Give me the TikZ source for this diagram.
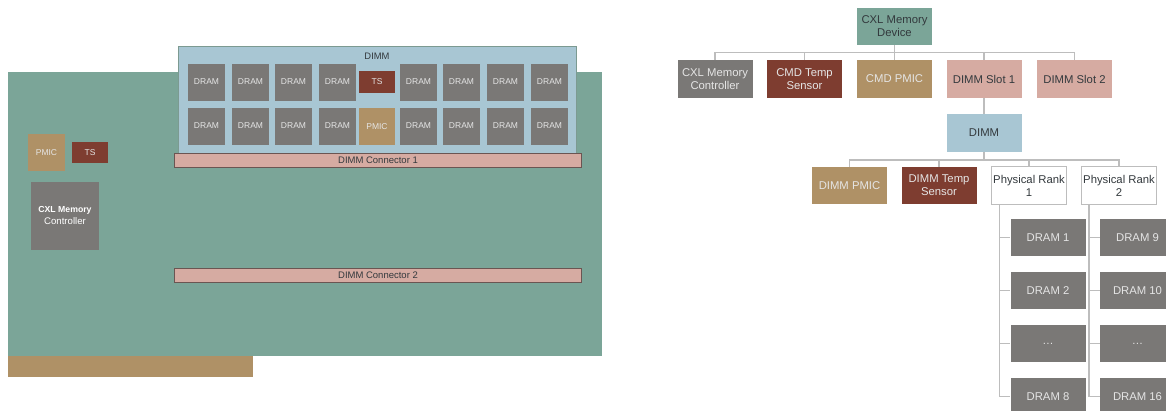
\documentclass[tikz,border=0pt]{standalone}
\usepackage{fontspec}
\setmainfont{Liberation Sans}
\definecolor{boardteal}{HTML}{7BA598}
\definecolor{dimmblue}{HTML}{A8C6D3}
\definecolor{dramgray}{HTML}{7A7876}
\definecolor{tsbrown}{HTML}{7E3D30}
\definecolor{pmictan}{HTML}{AF9166}
\definecolor{slotpink}{HTML}{D6ABA2}
\definecolor{linegray}{HTML}{BDBDBD}
\definecolor{darkedge}{HTML}{6B5552}
\definecolor{inkdark}{HTML}{33393D}
\begin{document}
\begin{tikzpicture}[x=1pt,y=-1pt,
  part/.style={inner sep=0pt,align=center,text=white!80!gray},
  small/.style={part,font=\fontsize{8.5}{10}\selectfont},
  dramchip/.style={small,fill=dramgray,minimum width=37pt,minimum height=37pt},
  slotbar/.style={part,text=inkdark,fill=slotpink,draw=darkedge,line width=1pt,minimum width=407pt,minimum height=14pt,font=\fontsize{9.5}{11}\selectfont},
  treebox/.style={part,minimum width=75pt,minimum height=37.5pt,font=\fontsize{11.3}{13}\selectfont},
  conn/.style={draw=linegray,line width=1.5pt}]
  \useasboundingbox (0,0) rectangle (1166,410);
  \clip (0,0) rectangle (1166,410);
  % board
  \node[part,fill=boardteal,minimum width=594pt,minimum height=284pt] (board) at (305,214) {};
  \node[part,fill=pmictan,minimum width=245pt,minimum height=21pt] (edge) at (130.5,366.5) {};
  \node[part,text=inkdark,fill=dimmblue,draw=boardteal!70!gray,line width=.5pt,minimum width=398pt,minimum height=107pt] (dimm) at (377,99.5) {};
  \node[small,text=inkdark,font=\fontsize{9.4}{11}\selectfont] (dimmname) at (377,56.5) {DIMM};
  \foreach \x [count=\i] in {206.5,250.5,293.5,337.5,418.5,461.5,505.5,549.5} {
    \node[dramchip] (chipa\i) at (\x,82) {DRAM};
    \node[dramchip] (chipb\i) at (\x,126) {DRAM};
  }
  \node[small,fill=tsbrown,minimum width=36pt,minimum height=22pt] (dimmts) at (377,82) {TS};
  \node[small,fill=pmictan,minimum width=36pt,minimum height=37pt] (dimmpmic) at (377,126.5) {PMIC};
  \node[slotbar] (conna) at (378,160) {DIMM Connector 1};
  \node[slotbar] (connb) at (378,275.5) {DIMM Connector 2};
  \node[small,fill=pmictan,minimum width=37pt,minimum height=37pt] (boardpmic) at (46.5,152.5) {PMIC};
  \node[small,fill=tsbrown,minimum width=36pt,minimum height=21pt] (boardts) at (90,152.5) {TS};
  \node[small,fill=dramgray,text=white,minimum width=68pt,minimum height=68pt,font=\fontsize{8.7}{12}\selectfont] (boardctrl) at (65,216) {\textbf{CXL Memory}\\{\fontsize{9.6}{12}\selectfont Controller}};
  % tree
  \node[treebox,text=inkdark,fill=boardteal] (device) at (894.5,26.5) {CXL Memory\\Device};
  \node[treebox,fill=dramgray] (ctrl) at (715,79) {CXL Memory\\Controller};
  \node[treebox,fill=tsbrown] (cmdtemp) at (804.5,79) {CMD Temp\\Sensor};
  \node[treebox,fill=pmictan] (cmdpmic) at (894.5,79) {CMD PMIC};
  \node[treebox,text=inkdark,fill=slotpink] (slota) at (984,79) {DIMM Slot 1};
  \node[treebox,text=inkdark,fill=slotpink] (slotb) at (1074.5,79) {DIMM Slot 2};
  \node[treebox,text=inkdark,fill=dimmblue] (dimmtree) at (984,133) {DIMM};
  \node[treebox,fill=pmictan] (treepmic) at (849.5,185.5) {DIMM PMIC};
  \node[treebox,fill=tsbrown] (treetemp) at (939,185.5) {DIMM Temp\\Sensor};
  \node[treebox,text=inkdark,fill=white,draw=linegray,line width=.8pt] (ranka) at (1029,185.5) {Physical Rank\\1};
  \node[treebox,text=inkdark,fill=white,draw=linegray,line width=.8pt] (rankb) at (1119,185.5) {Physical Rank\\2};
  \foreach \y/\na/\ta/\nb/\tb in {237.5/one/DRAM 1/nine/DRAM 9,290.5/two/DRAM 2/ten/DRAM 10,343.5/gapa/\ldots/gapb/\ldots,396.5/eight/DRAM 8/sixteen/DRAM 16} {
    \node[treebox,fill=dramgray] (\na) at (1048,\y) {\ta};
    \node[treebox,fill=dramgray] (\nb) at (1137.5,\y) {\tb};
  }
  % connectors
  \coordinate (busa) at (894.5,52.5);
  \coordinate (busb) at (984,160);
  \coordinate (trunka) at (999.5,204);
  \coordinate (trunkb) at (1089,204);
  \draw[conn] (device) -- (busa);
  \foreach \n in {ctrl,cmdtemp,cmdpmic,slota,slotb} \draw[conn] (busa) -| (\n.north);
  \draw[conn] (slota) -- (dimmtree);
  \draw[conn] (dimmtree) -- (busb);
  \foreach \n in {treepmic,treetemp,ranka,rankb} \draw[conn] (busb) -| (\n.north);
  \foreach \n in {one,two,gapa,eight} \draw[conn] (trunka) |- (\n.west);
  \foreach \n in {nine,ten,gapb,sixteen} \draw[conn] (trunkb) |- (\n.west);
\end{tikzpicture}
\end{document}
